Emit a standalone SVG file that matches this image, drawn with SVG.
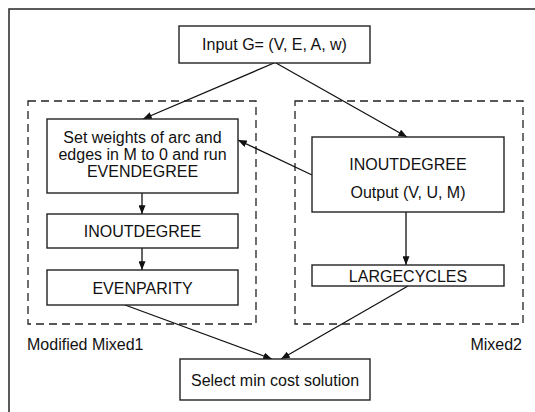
<svg xmlns="http://www.w3.org/2000/svg" width="535" height="412" viewBox="0 0 535 412">
<defs>
<marker id="ah" viewBox="0 0 10 8" refX="10" refY="4" markerWidth="9" markerHeight="7" markerUnits="userSpaceOnUse" orient="auto">
<path d="M0,0 L10,4 L0,8 z" fill="#111"/>
</marker>
</defs>
<style>
.box{fill:#fff;stroke:#222;stroke-width:1.4}
.grp{fill:none;stroke:#222;stroke-width:1.3;stroke-dasharray:8 5}
.frame{fill:none;stroke:#333;stroke-width:1.6}
.t{font-family:"Liberation Sans",Arial,sans-serif;font-size:16px;fill:#111;text-anchor:middle}
.lbl{font-family:"Liberation Sans",Arial,sans-serif;font-size:16px;fill:#111}
.c{fill:none;stroke:#111;stroke-width:1.3;marker-end:url(#ah)}
</style>
<rect width="535" height="412" fill="#fff"/>
<rect class="frame" x="9" y="9" width="540" height="420"/>
<g id="group-mixed1">
<rect class="grp" x="28" y="101" width="228" height="223"/>
<text class="lbl" x="27" y="350">Modified Mixed1</text>
</g>
<g id="group-mixed2">
<rect class="grp" x="295" y="101" width="228" height="223"/>
<text class="lbl" x="522" y="350" text-anchor="end">Mixed2</text>
</g>
<g id="connectors">
<line class="c" x1="274" y1="63" x2="143" y2="119"/>
<line class="c" x1="276" y1="63" x2="407" y2="137"/>
<line class="c" x1="312" y1="175" x2="238" y2="140"/>
<line class="c" x1="142" y1="193" x2="142" y2="214"/>
<line class="c" x1="142" y1="248" x2="142" y2="270"/>
<line class="c" x1="406" y1="212" x2="406" y2="265"/>
<line class="c" x1="125" y1="305" x2="272" y2="359"/>
<line class="c" x1="408" y1="286" x2="281" y2="359"/>
</g>
<g id="input">
<rect class="box" x="179" y="26" width="191" height="37"/>
<text class="t" x="274.5" y="50">Input G= (V, E, A, w)</text>
</g>
<g id="setweights">
<rect class="box" x="47" y="119" width="191" height="74"/>
<text class="t" x="142.5" y="143">Set weights of arc and</text>
<text class="t" x="142.5" y="160">edges in M to 0 and run</text>
<text class="t" x="142.5" y="177">EVENDEGREE</text>
</g>
<g id="inoutdegree1">
<rect class="box" x="47" y="214" width="191" height="34"/>
<text class="t" x="142.5" y="237">INOUTDEGREE</text>
</g>
<g id="evenparity">
<rect class="box" x="47" y="270" width="191" height="35"/>
<text class="t" x="142.5" y="293.5">EVENPARITY</text>
</g>
<g id="inoutdegree2">
<rect class="box" x="312" y="137" width="192" height="75"/>
<text class="t" x="408" y="170">INOUTDEGREE</text>
<text class="t" x="408" y="198">Output (V, U, M)</text>
</g>
<g id="largecycles">
<rect class="box" x="312" y="265" width="192" height="21"/>
<text class="t" x="408" y="281.5">LARGECYCLES</text>
</g>
<g id="select">
<rect class="box" x="180" y="359" width="190" height="41"/>
<text class="t" x="275" y="385.5">Select min cost solution</text>
</g>
</svg>
